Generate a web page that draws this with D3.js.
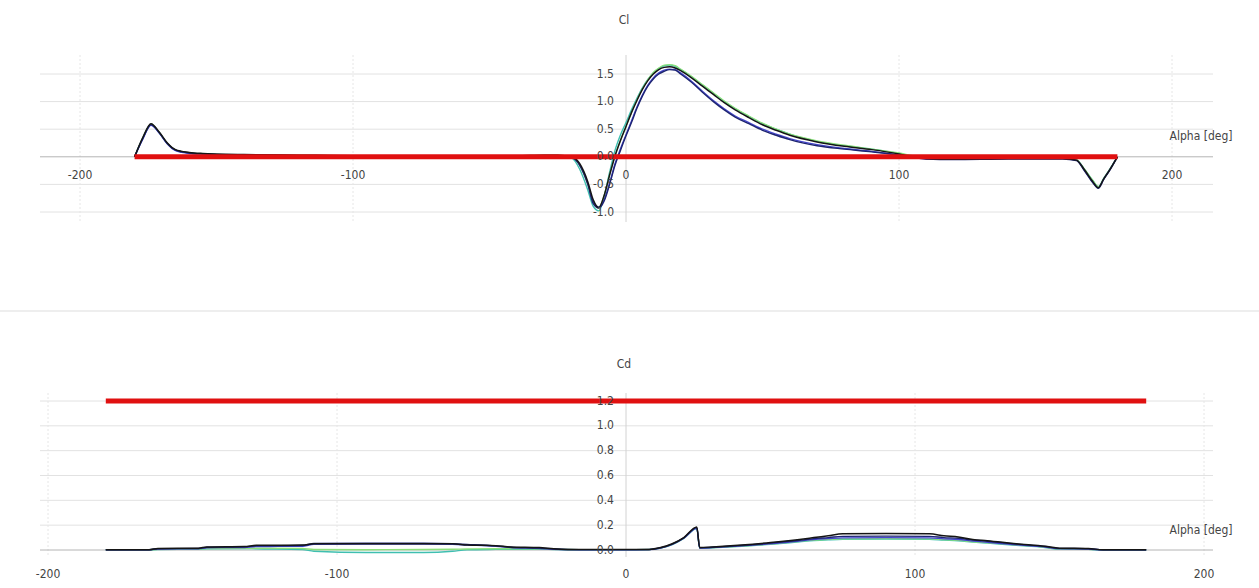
<!DOCTYPE html>
<html>
<head>
    <meta charset="utf-8">
    <script src="https://cdnjs.cloudflare.com/ajax/libs/d3/7.8.5/d3.min.js"></script>
    <style>
        body { margin: 0; background: #fff; }
        text {
            font-family: "Liberation Sans Narrow", "DejaVu Sans Condensed", sans-serif;
            font-size: 12px;
            fill: #444;
        }
        .grid { stroke: #e2e2e2; stroke-width: 1px; }
        .vgrid { stroke: #e6e6e6; stroke-width: 1px; stroke-dasharray: 2,2; }
        .zero { stroke: #b4b4b4; stroke-width: 1px; }
        .yaxis { stroke: #d2d2d2; stroke-width: 1px; }
    </style>
</head>
<body>
    <div id="chart"></div>
    <script>
        // ---- data: Cl panel ----
        const clAlpha = [-180, -177, -174, -171, -168, -165, -160, -155, -150, -140, -120, -100, -80, -60, -40, -30, -25, -20,
            -17, -14, -12, -10, -8, -6, -4, -2,
            0, 2, 4, 6, 8, 10, 12, 14, 16, 18, 20,
            24, 28, 32, 36, 40, 45, 50, 55, 60, 70, 80, 90, 100, 105, 110,
            120, 140, 160, 165, 168, 171, 173, 175, 177, 180];

        const clBlack = [0.00, 0.35, 0.60, 0.45, 0.25, 0.13, 0.08, 0.06, 0.05, 0.04, 0.03, 0.02, 0.02, 0.02, 0.02, 0.03, 0.03, 0.00,
            -0.12, -0.45, -0.78, -0.92, -0.70, -0.33, 0.02, 0.30,
            0.55, 0.80, 1.02, 1.22, 1.38, 1.50, 1.58, 1.62, 1.63, 1.61, 1.56,
            1.43, 1.28, 1.13, 0.98, 0.85, 0.71, 0.58, 0.48, 0.39, 0.27, 0.19, 0.13, 0.05, 0.00, -0.03,
            -0.04, -0.03, -0.03, -0.06, -0.24, -0.45, -0.56, -0.40, -0.25, 0.00];
        const clNavy = [0.00, 0.33, 0.58, 0.44, 0.24, 0.12, 0.07, 0.05, 0.04, 0.03, 0.02, 0.01, 0.01, 0.01, 0.01, 0.02, 0.02, -0.01,
            -0.15, -0.50, -0.85, -0.93, -0.80, -0.50, -0.15, 0.12,
            0.38, 0.62, 0.88, 1.10, 1.28, 1.41, 1.50, 1.55, 1.58, 1.57, 1.50,
            1.35, 1.17, 1.00, 0.85, 0.72, 0.60, 0.48, 0.39, 0.31, 0.20, 0.14, 0.09, 0.03, -0.01, -0.04,
            -0.05, -0.04, -0.04, -0.07, -0.26, -0.47, -0.57, -0.41, -0.26, 0.00];
        const clBlue = [0.00, 0.32, 0.57, 0.43, 0.23, 0.11, 0.06, 0.05, 0.04, 0.03, 0.02, 0.02, 0.02, 0.02, 0.02, 0.02, 0.02, -0.01,
            -0.14, -0.48, -0.82, -0.91, -0.78, -0.47, -0.12, 0.15,
            0.40, 0.65, 0.90, 1.12, 1.30, 1.43, 1.52, 1.57, 1.59, 1.58, 1.52,
            1.37, 1.19, 1.02, 0.87, 0.74, 0.62, 0.50, 0.41, 0.33, 0.22, 0.15, 0.10, 0.03, -0.01, -0.04,
            -0.04, -0.03, -0.03, -0.06, -0.25, -0.46, -0.56, -0.40, -0.25, 0.00];
        const clTeal = [0.00, 0.34, 0.59, 0.44, 0.24, 0.12, 0.07, 0.05, 0.04, 0.03, 0.02, 0.02, 0.02, 0.02, 0.02, 0.02, 0.02, -0.02,
            -0.22, -0.60, -0.90, -0.98, -0.72, -0.28, 0.12, 0.40,
            0.62, 0.85, 1.06, 1.25, 1.40, 1.52, 1.60, 1.65, 1.66, 1.64, 1.58,
            1.45, 1.30, 1.15, 1.00, 0.87, 0.73, 0.60, 0.50, 0.41, 0.28, 0.20, 0.14, 0.06, 0.01, -0.02,
            -0.03, -0.02, -0.02, -0.05, -0.23, -0.43, -0.54, -0.39, -0.24, 0.00];
        const clLime = [0.00, 0.34, 0.59, 0.44, 0.24, 0.12, 0.07, 0.05, 0.04, 0.03, 0.03, 0.02, 0.02, 0.02, 0.02, 0.03, 0.03, 0.00,
            -0.15, -0.50, -0.82, -0.92, -0.70, -0.32, 0.02, 0.30,
            0.55, 0.80, 1.03, 1.23, 1.40, 1.53, 1.61, 1.66, 1.67, 1.65, 1.59,
            1.46, 1.31, 1.16, 1.01, 0.88, 0.74, 0.61, 0.50, 0.41, 0.29, 0.21, 0.14, 0.07, 0.02, -0.02,
            -0.03, -0.02, -0.02, -0.05, -0.23, -0.43, -0.54, -0.39, -0.24, 0.00];
        const clRedAlpha = [-180, 180];
        const clRed = [0, 0];

        // ---- data: Cd panel ----
        const cdAlpha = [-180, -165, -162, -148, -145, -132, -128, -112, -108, -90, -70, -60, -55, -45, -40, -30, -25, -20, -10, 0,
            8, 12, 16, 20, 24.5, 25.5, 30, 40, 50, 60, 65, 70, 75, 90, 105, 110, 115, 120, 125, 135, 145, 150, 160, 165, 180];

        const cdBlack = [0.003, 0.003, 0.012, 0.015, 0.025, 0.028, 0.038, 0.040, 0.050, 0.050, 0.050, 0.050, 0.040, 0.035, 0.025, 0.020, 0.010, 0.005, 0.004, 0.004,
            0.005, 0.020, 0.050, 0.100, 0.185, 0.020, 0.025, 0.040, 0.060, 0.085, 0.100, 0.115, 0.130, 0.132, 0.130, 0.115, 0.105, 0.085, 0.075, 0.050, 0.030, 0.015, 0.012, 0.002, 0.002];
        const cdNavy = [0.002, 0.002, 0.010, 0.012, 0.022, 0.025, 0.033, 0.036, 0.052, 0.054, 0.054, 0.050, 0.045, 0.033, 0.022, 0.015, 0.008, 0.004, 0.003, 0.003,
            0.004, 0.018, 0.048, 0.098, 0.180, 0.018, 0.022, 0.036, 0.055, 0.078, 0.092, 0.100, 0.110, 0.112, 0.110, 0.100, 0.095, 0.080, 0.070, 0.048, 0.028, 0.013, 0.010, 0.002, 0.002];
        const cdBlue = [0.002, 0.002, 0.008, 0.010, 0.018, 0.020, 0.028, 0.030, 0.045, 0.047, 0.047, 0.045, 0.040, 0.030, 0.020, 0.012, 0.006, 0.003, 0.002, 0.002,
            0.003, 0.016, 0.045, 0.095, 0.175, 0.016, 0.020, 0.033, 0.050, 0.072, 0.085, 0.092, 0.098, 0.100, 0.098, 0.090, 0.085, 0.072, 0.062, 0.042, 0.024, 0.010, 0.008, 0.001, 0.001];
        const cdTeal = [0.001, 0.001, 0.004, 0.006, 0.010, 0.012, 0.010, 0.004, -0.010, -0.020, -0.020, -0.010, 0.002, 0.005, 0.006, 0.006, 0.004, 0.002, 0.002, 0.002,
            0.003, 0.015, 0.044, 0.094, 0.172, 0.014, 0.018, 0.030, 0.046, 0.066, 0.076, 0.082, 0.086, 0.088, 0.086, 0.080, 0.075, 0.064, 0.055, 0.038, 0.020, 0.006, 0.005, 0.000, 0.000];
        const cdLime = [0.002, 0.002, 0.006, 0.008, 0.012, 0.014, 0.014, 0.012, 0.004, 0.002, 0.004, 0.006, 0.008, 0.010, 0.010, 0.008, 0.006, 0.004, 0.003, 0.003,
            0.004, 0.016, 0.046, 0.096, 0.176, 0.016, 0.020, 0.032, 0.048, 0.070, 0.080, 0.086, 0.090, 0.092, 0.090, 0.084, 0.078, 0.066, 0.058, 0.040, 0.022, 0.008, 0.006, 0.001, 0.001];
        const cdRedAlpha = [-180, 180];
        const cdRed = [1.2, 1.2];

        const xTicks = [-200, -100, 0, 100, 200];
        const clTicks = [-1.0, -0.5, 0.0, 0.5, 1.0, 1.5];
        const cdTicks = [0.0, 0.2, 0.4, 0.6, 0.8, 1.0, 1.2];

        const colors = { lime: "#8ce07a", teal: "#3fbfb0", blue: "#4646d2", navy: "#1d2470", black: "#151515", red: "#e01010" };

        const width = 1259, height = 588;
        const svg = d3.select("#chart").append("svg")
            .attr("width", width).attr("height", height);

        // faint panel separator
        svg.append("line").attr("x1", 0).attr("x2", width).attr("y1", 311).attr("y2", 311)
            .attr("stroke", "#eeeeee").attr("stroke-width", 2);

        const fmt = d => d3.format(".1f")(d).replace("\u2212", "-");

        function drawPanel(cfg) {
            const x = d3.scaleLinear().domain([-200, 200]).range(cfg.xRange);
            const y = d3.scaleLinear().domain(cfg.yDomain).range(cfg.yRange);
            const g = svg.append("g");
            const left = 40, right = 1213;

            // horizontal grid
            g.selectAll(".grid").data(cfg.yTicks.filter(d => d !== 0)).join("line")
                .attr("class", "grid")
                .attr("x1", left).attr("x2", right)
                .attr("y1", d => y(d)).attr("y2", d => y(d));

            // vertical grid
            g.selectAll(".vgrid").data(xTicks.filter(d => d !== 0)).join("line")
                .attr("class", "vgrid")
                .attr("x1", d => x(d)).attr("x2", d => x(d))
                .attr("y1", cfg.axisTop).attr("y2", cfg.axisBottom);

            // axes
            g.append("line").attr("class", "zero")
                .attr("x1", left).attr("x2", right)
                .attr("y1", y(0)).attr("y2", y(0));
            g.append("line").attr("class", "yaxis")
                .attr("x1", x(0)).attr("x2", x(0))
                .attr("y1", cfg.axisTop).attr("y2", cfg.axisBottom);

            // series
            const line = d3.line()
                .x(d => x(d[0])).y(d => y(d[1]))
                .curve(d3.curveMonotoneX);
            cfg.series.forEach(s => {
                g.append("path")
                    .datum(s.alpha.map((a, i) => [a, s.values[i]]))
                    .attr("fill", "none")
                    .attr("stroke", s.color)
                    .attr("stroke-width", s.w)
                    .attr("stroke-linejoin", "round")
                    .attr("d", line);
            });

            // tick labels
            g.selectAll(".xt").data(xTicks).join("text")
                .attr("x", d => x(d)).attr("y", cfg.xLabelY)
                .attr("text-anchor", "middle").attr("dominant-baseline", "middle")
                .text(d => d);
            g.selectAll(".yt").data(cfg.yTicks).join("text")
                .attr("x", x(0) - 12).attr("y", d => y(d))
                .attr("text-anchor", "end").attr("dominant-baseline", "middle")
                .text(fmt);

            g.append("text").attr("x", x(0) - 2).attr("y", cfg.titleY)
                .attr("text-anchor", "middle").attr("dominant-baseline", "middle")
                .text(cfg.title);
            g.append("text").attr("x", 1201).attr("y", y(0) - 20)
                .attr("text-anchor", "middle").attr("dominant-baseline", "middle")
                .text("Alpha [deg]");
        }

        drawPanel({
            title: "Cl", titleY: 20,
            xRange: [80, 1172], yDomain: [-1, 1.5], yRange: [212, 74],
            axisTop: 55, axisBottom: 222, xLabelY: 175, yTicks: clTicks,
            series: [
                { alpha: clAlpha, values: clTeal, color: colors.teal, w: 1.4 },
                { alpha: clAlpha, values: clLime, color: colors.lime, w: 1.3 },
                { alpha: clAlpha, values: clBlue, color: colors.blue, w: 1.3 },
                { alpha: clAlpha, values: clNavy, color: colors.navy, w: 1.4 },
                { alpha: clAlpha, values: clBlack, color: colors.black, w: 1.5 },
                { alpha: clRedAlpha, values: clRed, color: colors.red, w: 5 }
            ]
        });

        drawPanel({
            title: "Cd", titleY: 364,
            xRange: [48, 1204], yDomain: [0, 1.2], yRange: [550, 401],
            axisTop: 393, axisBottom: 557, xLabelY: 574, yTicks: cdTicks,
            series: [
                { alpha: cdAlpha, values: cdTeal, color: colors.teal, w: 1.4 },
                { alpha: cdAlpha, values: cdLime, color: colors.lime, w: 1.3 },
                { alpha: cdAlpha, values: cdBlue, color: colors.blue, w: 1.4 },
                { alpha: cdAlpha, values: cdNavy, color: colors.navy, w: 1.4 },
                { alpha: cdAlpha, values: cdBlack, color: colors.black, w: 1.5 },
                { alpha: cdRedAlpha, values: cdRed, color: colors.red, w: 5 }
            ]
        });
    </script>
</body>
</html>
